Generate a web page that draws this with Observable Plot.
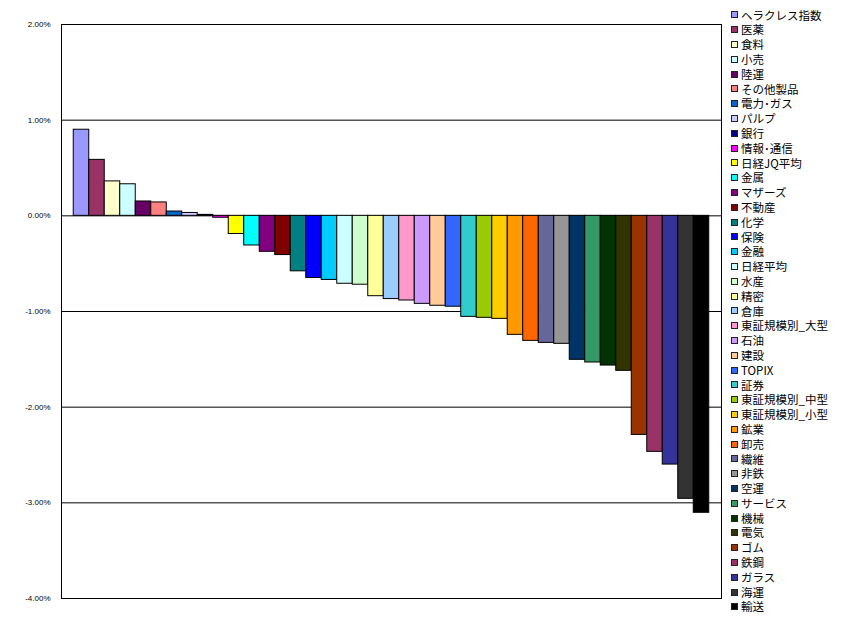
<!DOCTYPE html>
<html>
<head>
<meta charset="utf-8">
<script src="https://cdn.jsdelivr.net/npm/d3@7"></script>
<script src="https://cdn.jsdelivr.net/npm/@observablehq/plot@0.6"></script>
<style>
  html, body { margin: 0; padding: 0; background: #fff; }
  #wrap { position: relative; width: 844px; height: 629px; }
  #legend { position: absolute; left: 731px; top: 7.6px; font-family: "Noto Sans CJK JP", sans-serif; font-size: 11.5px; color: #000; }
  .row { height: 14.8px; line-height: 14.8px; display: flex; align-items: center; white-space: nowrap; }
  .sw { width: 5px; height: 5px; border: 1px solid #222; margin-right: 3px; flex: none; }
</style>
</head>
<body>
<div id="wrap"><div id="chart"></div><div id="legend"></div></div>
<script>
const names = ["ヘラクレス指数","医薬","食料","小売","陸運","その他製品","電力･ガス","パルプ","銀行","情報･通信",
  "日経JQ平均","金属","マザーズ","不動産","化学","保険","金融","日経平均","水産","精密",
  "倉庫","東証規模別_大型","石油","建設","TOPIX","証券","東証規模別_中型","東証規模別_小型","鉱業","卸売",
  "繊維","非鉄","空運","サービス","機械","電気","ゴム","鉄鋼","ガラス","海運","輸送"];
const values = [0.90,0.585,0.36,0.33,0.15,0.14,0.045,0.03,0.01,-0.02,
  -0.19,-0.31,-0.376,-0.41,-0.58,-0.65,-0.67,-0.71,-0.72,-0.84,
  -0.87,-0.885,-0.92,-0.94,-0.95,-1.056,-1.066,-1.077,-1.244,-1.307,
  -1.328,-1.338,-1.505,-1.533,-1.565,-1.62,-2.29,-2.467,-2.60,-2.958,-3.104];
const colors = ["#9999FF","#993366","#FFFFCC","#CCFFFF","#660066","#FF8080","#0066CC","#CCCCFF","#000080","#FF00FF",
  "#FFFF00","#00FFFF","#800080","#800000","#008080","#0000FF","#00CCFF","#CCFFFF","#CCFFCC","#FFFF99",
  "#99CCFF","#FF99CC","#CC99FF","#FFCC99","#3366FF","#33CCCC","#99CC00","#FFCC00","#FF9900","#FF6600",
  "#666699","#969696","#003366","#339966","#003300","#333300","#993300","#993366","#333399","#333333","#000000"];
const yTicks = [-4,-3,-2,-1,0,1,2];
const gridLines = [-3,-2,-1,0,1];

const data = names.map((n, i) => ({name: n, value: values[i]}));

const chart = Plot.plot({
  width: 844,
  height: 629,
  marginTop: 24,
  marginBottom: 31,
  marginLeft: 61,
  marginRight: 123,
  style: {fontFamily: "'Liberation Sans', sans-serif", fontSize: "8px", background: "#fff"},
  x: {domain: names, paddingInner: 0, paddingOuter: 0.79, round: false, axis: null},
  y: {domain: [-4, 2], ticks: yTicks, tickFormat: d => d.toFixed(2) + "%", tickSize: 0, tickPadding: 11, label: null},
  color: {domain: names, range: colors},
  marks: [
    Plot.ruleY(gridLines, {stroke: "#000", strokeWidth: 1}),
    Plot.barY(data, {x: "name", y: "value", fill: "name", stroke: "#000", strokeWidth: 1}),
    Plot.frame({stroke: "#000", strokeWidth: 1})
  ]
});
document.getElementById("chart").appendChild(chart);

const legend = document.getElementById("legend");
names.forEach((n, i) => {
  const row = document.createElement("div");
  row.className = "row";
  const sw = document.createElement("span");
  sw.className = "sw";
  sw.style.background = colors[i];
  const t = document.createElement("span");
  t.textContent = n;
  row.appendChild(sw); row.appendChild(t);
  legend.appendChild(row);
});
</script>
</body>
</html>
